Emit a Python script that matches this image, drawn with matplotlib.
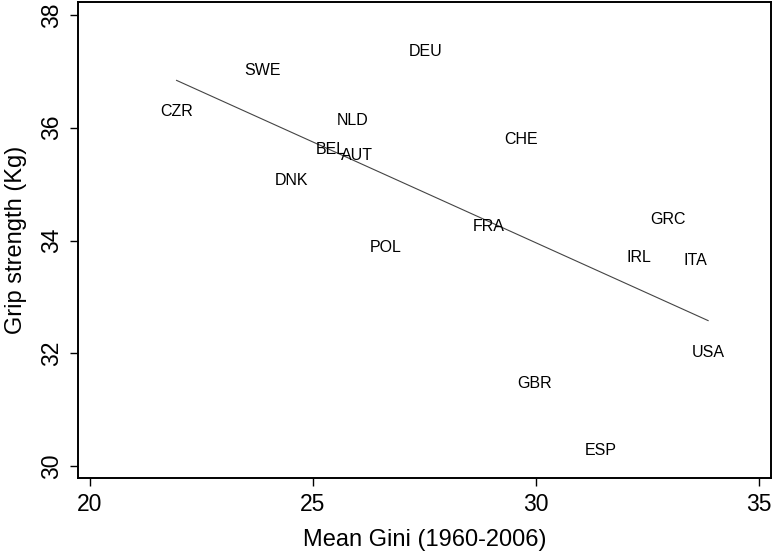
import matplotlib
matplotlib.use("Agg")
import matplotlib.pyplot as plt

# Country labels placed at (mean Gini, grip strength)
countries = ["CZR", "SWE", "DEU", "NLD", "BEL", "AUT", "DNK", "CHE",
             "FRA", "POL", "GRC", "IRL", "ITA", "USA", "GBR", "ESP"]
gini = [21.94, 23.87, 27.53, 25.89, 25.40, 25.98, 24.52, 29.66,
        28.95, 26.63, 32.97, 32.31, 33.58, 33.86, 29.96, 31.46]
grip = [36.29, 37.01, 37.35, 36.12, 35.62, 35.51, 35.07, 35.80,
        34.24, 33.88, 34.38, 33.70, 33.65, 32.01, 31.46, 30.27]

# Fitted line endpoints
fit_x = [21.94, 33.86]
fit_y = [36.84, 32.58]

x_ticks = [20, 25, 30, 35]
y_ticks = [30, 32, 34, 36, 38]

plt.rcParams['font.family'] = ['Liberation Sans', 'DejaVu Sans']

fig = plt.figure(figsize=(7.74, 5.54), dpi=100)
ax = fig.add_axes([0.1008, 0.1363, 0.8953, 0.8601])

for name, x, y in zip(countries, gini, grip):
    ax.text(x, y, name, ha="center", va="center", fontsize=11.5, color="black")

ax.plot(fit_x, fit_y, color="#444444", linewidth=0.8)

ax.set_xlim(19.73, 35.27)
ax.set_ylim(29.78, 38.23)
ax.set_xticks(x_ticks)
ax.set_yticks(y_ticks)
ax.tick_params(axis="both", direction="out", length=5.5, width=1.0,
               labelsize=16.5, pad=5)
plt.setp(ax.get_yticklabels(), rotation=90, va="center")

for s in ax.spines.values():
    s.set_linewidth(1.4)

ax.set_xlabel("Mean Gini (1960-2006)", fontsize=17, labelpad=9)
ax.set_ylabel("Grip strength (Kg)", fontsize=17, labelpad=10)

fig.savefig("out.png", dpi=100)
